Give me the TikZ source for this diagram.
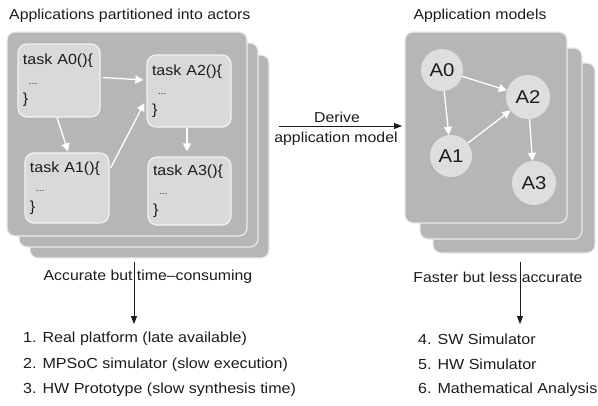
\documentclass[tikz,border=0pt]{standalone}
\usepackage{fontspec}
\setmainfont{Liberation Sans}[FakeStretch=1.1]
\usetikzlibrary{arrows.meta}
\definecolor{sheetgray}{HTML}{B6B6B6}
\definecolor{boxgray}{HTML}{D9D9D9}
\definecolor{actorgray}{HTML}{DEDEDE}
\definecolor{inkc}{HTML}{1C1C1C}
\tikzset{
  sheet/.style={fill=sheetgray, draw=white!92!black, line width=1.2pt, rounded corners=8pt},
  taskbox/.style={fill=boxgray, draw=white!95!black, line width=1.2pt, rounded corners=9pt,
    inner sep=0pt, align=left, text=inkc, font=\fontsize{14.6}{19.5}\selectfont},
  actor/.style={circle, fill=actorgray, draw=none, inner sep=0pt,
    text=inkc, font=\fontsize{18.5}{20}\selectfont},
  flow/.style={draw=white, line width=1.3pt, -{Triangle[length=8pt,width=8pt]}},
  mainarrow/.style={draw=inkc, line width=0.9pt, -{Triangle[length=8pt,width=6pt]}},
  label/.style={text=inkc, inner sep=0pt, font=\fontsize{14.4}{17}\selectfont},
  listitem/.style={text=inkc, inner sep=0pt, anchor=west, font=\fontsize{14.6}{17}\selectfont},
}
\newcommand{\taskbody}[1]{\hspace*{5pt}task #1()\{\\\hspace*{11pt}{\fontsize{9}{9}\selectfont ...}\\\hspace*{5pt}\}}
\begin{document}
\begin{tikzpicture}[x=1pt,y=-1pt]
\useasboundingbox (0,0) rectangle (598,405);

% left stack of sheets
\draw[sheet] (30,55) rectangle (269,258);
\draw[sheet] (19,43) rectangle (258,247);
\draw[sheet] (7,32) rectangle (247,236);
\node[label, anchor=west] (ltitle) at (9,16) {Applications partitioned into actors};

% task boxes
\node[taskbox, minimum width=82pt, minimum height=73pt, text width=82pt] (t0) at (59,80.5) {\taskbody{A0}};
\node[taskbox, minimum width=84pt, minimum height=72pt, text width=84pt] (t2) at (189,91) {\taskbody{A2}};
\node[taskbox, minimum width=84pt, minimum height=70pt, text width=84pt] (t1) at (67,188) {\taskbody{A1}};
\node[taskbox, minimum width=83pt, minimum height=68pt, text width=83pt] (t3) at (189.5,191) {\taskbody{A3}};

\draw[flow] ([xshift=2pt,yshift=3pt]t0.east) -- ([xshift=-3pt,yshift=11pt]t2.west);
\draw[flow] ([xshift=-2pt]t0.south) -- ([xshift=1pt,yshift=1pt]t1.north);
\draw[flow] ([xshift=1pt,yshift=20pt]t1.east) -- ([xshift=-2pt,yshift=-12pt]t2.west);
\draw[flow] ([xshift=-2pt]t2.south) -- ([xshift=-2.5pt,yshift=5pt]t3.north);

% derive arrow
\coordinate (dstart) at (279,126);
\coordinate (dend) at (402,126);
\draw[mainarrow] (dstart) -- (dend);
\node[label] (derive) at (337,117) {Derive};
\node[label] (appmodel) at (336,139) {application model};

% right stack of sheets
\draw[sheet] (433,63) rectangle (595,253);
\draw[sheet] (420,48) rectangle (582,239);
\draw[sheet] (405,32) rectangle (567,223);
\node[label] (rtitle) at (480,16) {Application models};

% actor graph
\node[actor, minimum size=42pt] (a0) at (442,70) {A0};
\node[actor, minimum size=44pt] (a2) at (528,97) {A2};
\node[actor, minimum size=42pt] (a1) at (451,156) {A1};
\node[actor, minimum size=44pt] (a3) at (534,183) {A3};
\draw[flow] (a0) -- (a2);
\draw[flow] (a0) -- (a1);
\draw[flow] (a1) -- (a2);
\draw[flow] (a2) -- (a3);

% left outcome
\node[label] (accurate) at (148,277) {Accurate but time--consuming};
\coordinate (lstart) at (134,262);
\coordinate (lend) at (134,324);
\draw[mainarrow] (lstart) -- (lend);
\node[listitem] (l1) at (23,339) {1. Real platform (late available)};
\node[listitem] (l2) at (23,364.5) {2. MPSoC simulator (slow execution)};
\node[listitem] (l3) at (23,390) {3. HW Prototype (slow synthesis time)};

% right outcome
\node[label] (faster) at (498,277) {Faster but less accurate};
\coordinate (rstart) at (520,262);
\coordinate (rend) at (520,324);
\draw[mainarrow] (rstart) -- (rend);
\node[listitem] (r4) at (418,339) {4. SW Simulator};
\node[listitem] (r5) at (418,364.5) {5. HW Simulator};
\node[listitem] (r6) at (418,390) {6. Mathematical Analysis};
\end{tikzpicture}
\end{document}
